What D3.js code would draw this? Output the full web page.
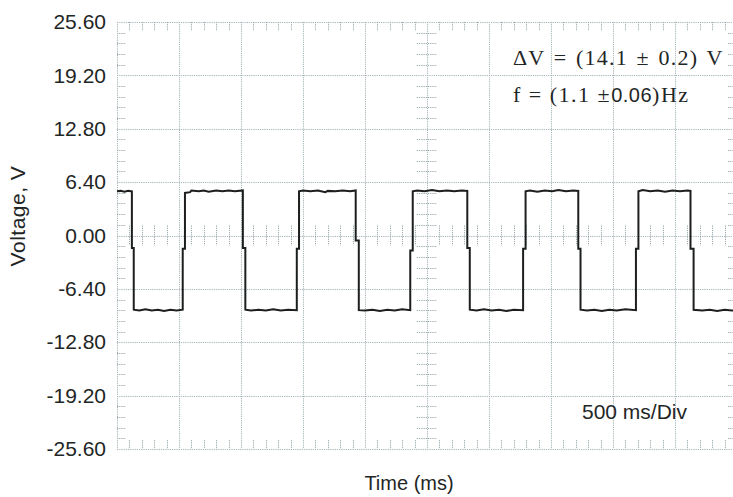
<!DOCTYPE html>
<html>
<head>
<meta charset="utf-8">
<script src="https://cdn.jsdelivr.net/npm/d3@7"></script>
<style>
  html, body { margin: 0; padding: 0; background: #ffffff; }
  svg { display: block; }
</style>
</head>
<body>
<svg id="chart" width="733" height="497"></svg>
<script>
// ---------------- DATA ----------------
const yTickValues = [25.6, 19.2, 12.8, 6.4, 0, -6.4, -12.8, -19.2, -25.6];
const yTickLabels = ["25.60", "19.20", "12.80", "6.40", "0.00", "-6.40", "-12.80", "-19.20", "-25.60"];
const xDivisions = [0, 500, 1000, 1500, 2000, 2500, 3000, 3500, 4000, 4500, 5000]; // ms
const timeDomain = [0, 5000];
const voltDomain = [-25.6, 25.6];

// waveform samples (time in ms, voltage in V)
const waveTime = [
  0, 30, 60, 90, 120, 120, 135, 135,
  180, 230, 280, 330, 380, 430, 480, 530, 530, 548, 548,
  590, 600, 660, 700, 740, 800, 850, 900, 950, 1015, 1015, 1035, 1035,
  1080, 1140, 1200, 1260, 1320, 1380, 1450, 1450, 1468, 1468,
  1500, 1560, 1620, 1680, 1700, 1760, 1820, 1880, 1925, 1925, 1950, 1950,
  2000, 2060, 2120, 2180, 2240, 2300, 2365, 2365, 2385, 2385,
  2420, 2480, 2540, 2600, 2660, 2720, 2780, 2825, 2825, 2845, 2845,
  2900, 2960, 3020, 3080, 3140, 3200, 3275, 3275, 3295, 3295,
  3330, 3390, 3450, 3510, 3560, 3620, 3680, 3720, 3720, 3738, 3738,
  3790, 3850, 3910, 3970, 4030, 4100, 4185, 4185, 4205, 4205,
  4240, 4300, 4360, 4420, 4480, 4540, 4600, 4625, 4625, 4650, 4650,
  4720, 4780, 4840, 4900, 4960, 5000
];
const waveVolt = [
  5.3, 5.35, 5.25, 5.35, 5.3, -1.5, -1.5, -8.9,
  -9.0, -8.85, -9.0, -8.9, -9.05, -8.9, -9.0, -8.9, -1.6, -1.6, 5.1,
  5.2, 5.4, 5.3, 5.4, 5.25, 5.4, 5.3, 5.4, 5.3, 5.4, -1.5, -1.5, -8.9,
  -9.0, -8.9, -9.0, -8.85, -9.0, -8.9, -8.95, -1.6, -1.6, 5.3,
  5.4, 5.3, 5.4, 5.2, 5.35, 5.3, 5.4, 5.3, 5.4, -0.6, -0.6, -8.95,
  -9.0, -8.9, -9.05, -8.9, -9.0, -8.85, -8.95, -1.8, -1.8, 5.3,
  5.4, 5.3, 5.45, 5.3, 5.4, 5.3, 5.4, 5.35, -1.5, -1.5, -8.9,
  -9.0, -8.85, -9.0, -8.9, -9.05, -8.9, -8.95, -1.6, -1.6, 5.3,
  5.4, 5.25, 5.4, 5.3, 5.45, 5.3, 5.4, 5.35, -1.6, -1.6, -8.9,
  -9.0, -8.9, -9.05, -8.9, -9.0, -8.85, -8.95, -1.6, -1.6, 5.3,
  5.45, 5.3, 5.4, 5.25, 5.4, 5.3, 5.4, 5.35, -1.6, -1.6, -8.9,
  -9.0, -8.9, -9.05, -8.9, -9.0, -8.9
];

const annotationLine1 = "ΔV = (14.1 ± 0.2) V";
const annotationLine2 = ["f = (1.1 ±", "0.06", ")Hz"];
const timeBaseLabel = "500 ms/Div";
const xAxisTitle = "Time (ms)";
const yAxisTitle = "Voltage, V";

// ---------------- LAYOUT ----------------
const svg = d3.select("#chart");
const pLeft = 117, pRight = 737, pTop = 22, pBottom = 449;
const x = d3.scaleLinear().domain(timeDomain).range([pLeft, pRight]);
const y = d3.scaleLinear().domain(voltDomain).range([pBottom, pTop]);

const gridColor = "#a7b6bb";
const tickColor = "#9aa9ae";
const dash = "1.2,1";

const g = svg.append("g");

// major grid (dotted)
g.append("g").selectAll("line").data(xDivisions).join("line")
  .attr("x1", d => Math.round(x(d)) + 0.5).attr("x2", d => Math.round(x(d)) + 0.5)
  .attr("y1", pTop).attr("y2", pBottom)
  .attr("stroke", gridColor).attr("stroke-width", 1).attr("stroke-dasharray", dash);
g.append("g").selectAll("line").data(yTickValues).join("line")
  .attr("y1", d => Math.round(y(d)) + 0.5).attr("y2", d => Math.round(y(d)) + 0.5)
  .attr("x1", pLeft).attr("x2", pRight)
  .attr("stroke", gridColor).attr("stroke-width", 1).attr("stroke-dasharray", dash);

// minor ticks
const minorX = d3.range(timeDomain[0], timeDomain[1] + 1, 100).filter(v => v % 500 !== 0);
const minorY = d3.range(-25.6, 25.61, 1.28).map(v => +v.toFixed(2))
  .filter(v => Math.abs((v / 6.4) - Math.round(v / 6.4)) > 1e-6);

function vTicks(vals, y1, y2) {
  g.append("g").selectAll("line").data(vals).join("line")
    .attr("x1", d => Math.round(x(d)) + 0.5).attr("x2", d => Math.round(x(d)) + 0.5)
    .attr("y1", y1).attr("y2", y2)
    .attr("stroke", tickColor).attr("stroke-width", 1).attr("stroke-dasharray", dash);
}
function hTicks(vals, x1, x2) {
  g.append("g").selectAll("line").data(vals).join("line")
    .attr("y1", d => Math.round(y(d)) + 0.5).attr("y2", d => Math.round(y(d)) + 0.5)
    .attr("x1", x1).attr("x2", x2)
    .attr("stroke", tickColor).attr("stroke-width", 1).attr("stroke-dasharray", dash);
}
vTicks(minorX, pTop, pTop + 9);
vTicks(minorX, pBottom - 9, pBottom);
vTicks(minorX, y(0) - 10, y(0) + 10);
hTicks(minorY, pLeft, pLeft + 9);
hTicks(minorY, pRight - 9, pRight);
hTicks(minorY, x(2500) - 10, x(2500) + 10);

// waveform
const pts = waveTime.map((t, i) => [t, waveVolt[i]]);
const line = d3.line().x(d => x(d[0])).y(d => y(d[1]));
g.append("path").datum(pts)
  .attr("d", line)
  .attr("fill", "none")
  .attr("stroke", "#1d1f1f")
  .attr("stroke-width", 2)
  .attr("stroke-linejoin", "miter");

// y axis labels
const yAxis = d3.axisLeft(y).tickValues(yTickValues)
  .tickFormat((d, i) => yTickLabels[i]).tickSize(0).tickPadding(11);
const ya = svg.append("g").attr("transform", `translate(${pLeft},0)`).call(yAxis);
ya.select(".domain").remove();
ya.selectAll("text")
  .attr("font-family", "Liberation Sans, Arial, sans-serif")
  .attr("font-size", 21).attr("fill", "#1f2626");

// axis titles
svg.append("text").text(xAxisTitle)
  .attr("x", 409).attr("y", 490).attr("text-anchor", "middle")
  .attr("font-family", "Liberation Sans, Arial, sans-serif")
  .attr("font-size", 20).attr("fill", "#1f2626");
svg.append("text").text(yAxisTitle)
  .attr("transform", "translate(25,216) rotate(-90)")
  .attr("text-anchor", "middle")
  .attr("font-family", "Liberation Sans, Arial, sans-serif")
  .attr("font-size", 21).attr("letter-spacing", 0.5).attr("fill", "#1f2626");

// time base label
svg.append("text").text(timeBaseLabel)
  .attr("x", 582).attr("y", 419)
  .attr("font-family", "Liberation Sans, Arial, sans-serif")
  .attr("font-size", 21).attr("fill", "#1f2626");

// annotation
svg.append("text").text(annotationLine1)
  .attr("x", 513).attr("y", 65)
  .attr("font-family", "Liberation Serif, Times New Roman, serif")
  .attr("font-size", 22).attr("letter-spacing", 1.2).attr("word-spacing", 2)
  .attr("fill", "#1f2626");
const t2 = svg.append("text").attr("x", 513).attr("y", 102)
  .attr("font-family", "Liberation Serif, Times New Roman, serif")
  .attr("font-size", 22).attr("letter-spacing", 1.5).attr("fill", "#1f2626");
t2.append("tspan").text(annotationLine2[0]);
t2.append("tspan").text(annotationLine2[1])
  .attr("font-family", "Liberation Sans, Arial, sans-serif").attr("font-size", 20)
  .attr("letter-spacing", 0.5);
t2.append("tspan").text(annotationLine2[2]);
</script>
</body>
</html>
